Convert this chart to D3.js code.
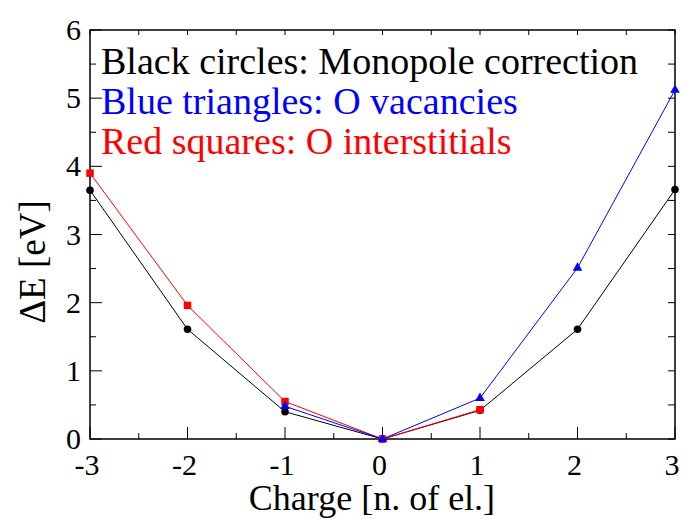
<!DOCTYPE html>
<html>
<head>
<meta charset="utf-8">
<script src="https://cdn.jsdelivr.net/npm/d3@7"></script>
<style>
  body { margin: 0; background: #fff; }
</style>
</head>
<body>
<script>
// data
var charges = [-3, -2, -1, 0, 1, 2, 3];
var monopole = [3.65, 1.61, 0.40, 0, 0.42, 1.61, 3.66];
var vacCharges = [-1, 0, 1, 2, 3];
var vacancies = [0.48, 0, 0.60, 2.51, 5.12];
var intCharges = [-3, -2, -1, 0, 1];
var interstitials = [3.90, 1.96, 0.55, 0, 0.43];
var xTicks = [-3, -2, -1, 0, 1, 2, 3];
var yTicks = [0, 1, 2, 3, 4, 5, 6];
var legendLines = ["Black circles: Monopole correction", "Blue triangles: O vacancies", "Red squares: O interstitials"];
var legendColors = ["#000", "#00f", "#f00"];

var width = 686, height = 519;
var pLeft = 90, pRight = 675, pTop = 30, pBottom = 439;

var svg = d3.select("body").append("svg")
  .attr("width", width)
  .attr("height", height)
  .attr("font-family", "'Liberation Serif', 'Times New Roman', Times, serif");

var x = d3.scaleLinear().domain([-3, 3]).range([pLeft, pRight]);
var y = d3.scaleLinear().domain([0, 6]).range([pBottom, pTop]);

var minorX = d3.range(-3, 3.01, 0.5);
var minorY = d3.range(0, 6.01, 0.5);

// ticks, inward on all sides
var ticks = svg.append("g").attr("stroke", "#000").attr("stroke-width", 1);
minorX.forEach(function(v) {
  var major = Math.abs(v - Math.round(v)) < 1e-6;
  ticks.append("line").attr("x1", x(v)).attr("x2", x(v))
    .attr("y1", pBottom).attr("y2", pBottom - (major ? 12 : 6));
  ticks.append("line").attr("x1", x(v)).attr("x2", x(v))
    .attr("y1", pTop).attr("y2", pTop + 5);
});
minorY.forEach(function(v) {
  var major = Math.abs(v - Math.round(v)) < 1e-6;
  ticks.append("line").attr("y1", y(v)).attr("y2", y(v))
    .attr("x1", pLeft).attr("x2", pLeft + (major ? 12 : 6));
  ticks.append("line").attr("y1", y(v)).attr("y2", y(v))
    .attr("x1", pRight).attr("x2", pRight - 7);
});

// frame
svg.append("rect")
  .attr("x", pLeft).attr("y", pTop)
  .attr("width", pRight - pLeft).attr("height", pBottom - pTop)
  .attr("fill", "none").attr("stroke", "#000").attr("stroke-width", 1.5);

// tick labels
svg.append("g").selectAll("text").data(xTicks).enter().append("text")
  .attr("x", function(d) { return x(d) - 3; })
  .attr("y", 475)
  .attr("text-anchor", "middle")
  .attr("font-size", 30)
  .text(function(d) { return d; });

svg.append("g").selectAll("text").data(yTicks).enter().append("text")
  .attr("x", 81)
  .attr("y", function(d) { return y(d) + 10; })
  .attr("text-anchor", "end")
  .attr("font-size", 30)
  .text(function(d) { return d; });

// axis titles
svg.append("text")
  .attr("x", 372).attr("y", 510)
  .attr("text-anchor", "middle")
  .attr("font-size", 36)
  .text("Charge [n. of el.]");

svg.append("text")
  .attr("transform", "translate(45,262) rotate(-90)")
  .attr("text-anchor", "middle")
  .attr("font-size", 37)
  .text("\u0394E [eV]");

// series
var line = d3.line()
  .x(function(d) { return x(d[0]); })
  .y(function(d) { return y(d[1]); });

var blackPts = d3.zip(charges, monopole);
var redPts = d3.zip(intCharges, interstitials);
var bluePts = d3.zip(vacCharges, vacancies);

svg.append("path").datum(blackPts).attr("d", line)
  .attr("fill", "none").attr("stroke", "#000").attr("stroke-width", 1);
svg.append("path").datum(redPts).attr("d", line)
  .attr("fill", "none").attr("stroke", "#f00").attr("stroke-width", 1);
svg.append("path").datum(bluePts).attr("d", line)
  .attr("fill", "none").attr("stroke", "#00f").attr("stroke-width", 1);

svg.append("g").selectAll("circle").data(blackPts).enter().append("circle")
  .attr("cx", function(d) { return x(d[0]); })
  .attr("cy", function(d) { return y(d[1]); })
  .attr("r", 3.8)
  .attr("fill", "#000");

svg.append("g").selectAll("path").data(redPts).enter().append("path")
  .attr("d", d3.symbol().type(d3.symbolSquare).size(56))
  .attr("transform", function(d) { return "translate(" + x(d[0]) + "," + y(d[1]) + ")"; })
  .attr("fill", "#f00");

svg.append("g").selectAll("path").data(bluePts).enter().append("path")
  .attr("d", d3.symbol().type(d3.symbolTriangle).size(40))
  .attr("transform", function(d) { return "translate(" + x(d[0]) + "," + y(d[1]) + ")"; })
  .attr("fill", "#00f");

// legend text
svg.append("g").selectAll("text").data(legendLines).enter().append("text")
  .attr("x", 101)
  .attr("y", function(d, i) { return 74 + i * 40; })
  .attr("font-size", 38)
  .attr("fill", function(d, i) { return legendColors[i]; })
  .text(function(d) { return d; });
</script>
</body>
</html>
